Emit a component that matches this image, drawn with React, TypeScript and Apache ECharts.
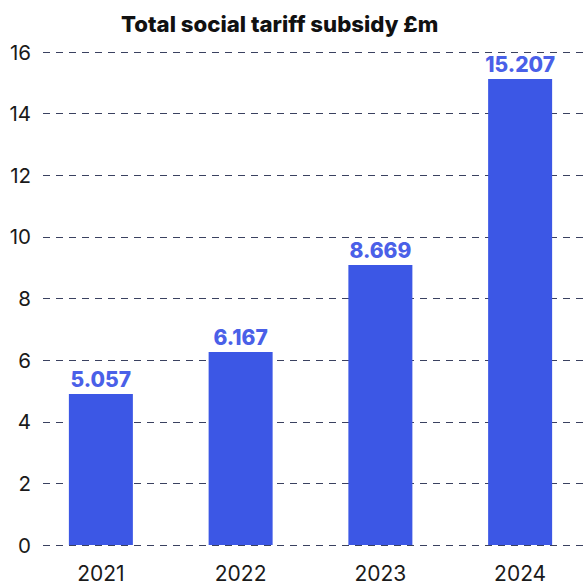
import React, { useEffect, useRef } from "react";
import * as echarts from "echarts";

const categories = ["2021", "2022", "2023", "2024"];
const barHeights = [4.9, 6.26, 9.09, 15.12];
const valueLabels = ["5.057", "6.167", "8.669", "15.207"];
const titleText = "Total social tariff subsidy £m";
const yMin = 0;
const yMax = 16;
const yStep = 2;

export default function App() {
  const ref = useRef<HTMLDivElement>(null);
  useEffect(() => {
    if (!ref.current) return;
    const chart = echarts.init(ref.current, null, { renderer: "svg" });
    const font = "Inter, 'Noto Sans', sans-serif";
    chart.setOption({
      animation: false,
      textStyle: { fontFamily: font },
      title: {
        text: titleText,
        left: 116,
        top: 7,
        textStyle: { fontSize: 22.2, fontWeight: 800, color: "#111", fontFamily: font },
      },
      grid: [
        { left: 43, right: 0, top: 52, bottom: 41, outerBoundsMode: "none" },
        { left: 31, width: 559, top: 52, bottom: 41, outerBoundsMode: "none" },
      ],
      xAxis: [
        { type: "category", gridIndex: 0, data: categories, show: false },
        {
          type: "category",
          gridIndex: 1,
          data: categories,
          axisLine: { show: false },
          axisTick: { show: false },
          axisLabel: { fontSize: 21, color: "#1a1a1a", margin: 18, fontFamily: font },
        },
      ],
      yAxis: [
        {
          type: "value",
          gridIndex: 0,
          min: yMin,
          max: yMax,
          interval: yStep,
          axisLine: { show: false },
          axisTick: { show: false },
          axisLabel: { fontSize: 20.5, color: "#1a1a1a", margin: 12, fontFamily: font },
          splitLine: { lineStyle: { color: "#3a4160", type: [7, 6], width: 1.2 } },
        },
        {
          type: "value",
          gridIndex: 1,
          min: yMin,
          max: yMax,
          interval: yStep,
          show: false,
          splitLine: { show: false },
        },
      ],
      series: [
        {
          type: "bar",
          xAxisIndex: 1,
          yAxisIndex: 1,
          data: barHeights,
          barWidth: 64,
          itemStyle: { color: "#3C57E5" },
          label: {
            show: true,
            position: "top",
            distance: 4,
            fontSize: 21,
            fontWeight: 800,
            color: "#4A60E8",
            fontFamily: font,
            formatter: (p: any) => valueLabels[p.dataIndex],
          },
        },
      ],
    });
    return () => chart.dispose();
  }, []);
  return (
    <div
      ref={ref}
      style={{ position: "fixed", left: 0, top: 0, width: 584, height: 586, background: "#fff" }}
    />
  );
}
